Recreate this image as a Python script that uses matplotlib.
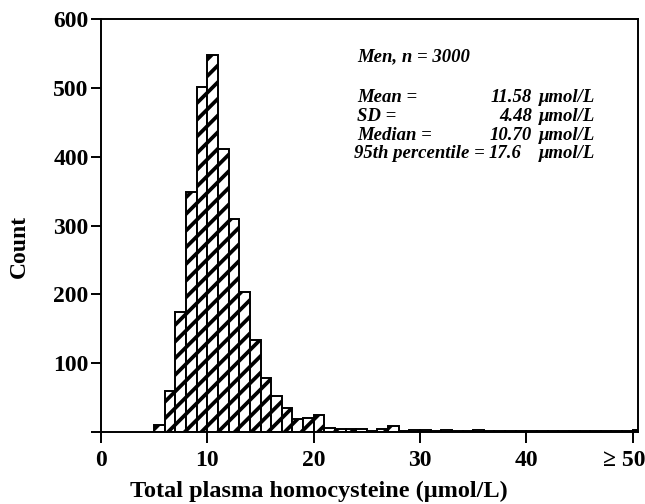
import matplotlib
matplotlib.use('Agg')
import matplotlib.pyplot as plt
import matplotlib.transforms as mtrans
import numpy as np

# histogram of total plasma homocysteine, 1 umol/L bins starting at 5
bin_starts = list(range(5, 51))
counts = [10, 60, 175, 348, 501, 547, 411, 310, 203, 133,
          78, 53, 35, 19, 21, 24, 6, 4, 4, 4,
          1, 5, 8, 1, 3, 3, 2, 3, 2, 1,
          3, 2, 1, 1, 1, 2, 2, 1, 1, 1,
          1, 2, 1, 1, 1, 3]

xticks = [0, 10, 20, 30, 40, 50]
xtick_labels = ['0', '10', '20', '30', '40', '\u2265 50']
yticks = [0, 100, 200, 300, 400, 500, 600]
ytick_labels = ['', '100', '200', '300', '400', '500', '600']

stats_names = ['Mean =', 'SD =', 'Median =', '95th percentile =']
stats_values = ['11.58', '4.48', '10.70', '17.6']

plt.rcParams['font.family'] = ['Liberation Serif', 'DejaVu Serif']
plt.rcParams['hatch.linewidth'] = 2.7

fig = plt.figure(figsize=(6.45, 5.04), dpi=100)
ax = fig.add_axes([101/645, 1-432/504, 537/645, 413/504])

ax.bar(bin_starts, counts, width=1.0, align='edge', color='white',
       edgecolor='black', linewidth=1.4, hatch='//')

ax.set_xlim(0, 50.5)
ax.set_ylim(0, 600)
ax.set_xticks(xticks)
ax.set_xticklabels(xtick_labels)
ax.set_yticks(yticks)
ax.set_yticklabels(ytick_labels)
ax.tick_params(axis='both', direction='out', width=1.4, labelsize=17)
ax.tick_params(axis='x', length=8, pad=5)
ax.tick_params(axis='y', length=7, pad=2)
for lab in ax.get_xticklabels() + ax.get_yticklabels():
    lab.set_fontweight('bold')
last = ax.get_xticklabels()[-1]
last.set_transform(last.get_transform() +
                   mtrans.ScaledTranslation(-8/100, 0, fig.dpi_scale_trans))
for sp in ax.spines.values():
    sp.set_linewidth(1.4)

ax.set_xlabel('Total plasma homocysteine (\u03bcmol/L)', fontsize=17.5,
              fontweight='bold')
ax.xaxis.set_label_coords((319-101)/537, -0.118)
ax.set_ylabel('Count', fontsize=17, fontweight='bold')
ax.yaxis.set_label_coords(-0.133, 0.45)

tkw = dict(transform=ax.transAxes, fontsize=13.5, fontweight='bold',
           style='italic', va='baseline')
ax.text(0.477, 0.897, 'Men, n = 3000', ha='left', **tkw)
rows = [0.800, 0.754, 0.707, 0.663]
for i, (name, val) in enumerate(zip(stats_names, stats_values)):
    x_left = 0.477 if i < 3 else 0.472
    ax.text(x_left, rows[i], name, ha='left', **tkw)
    x_val = 0.802 if i < 3 else 0.783
    ax.text(x_val, rows[i], val, ha='right', **tkw)
    ax.text(0.816, rows[i], '\u03bcmol/L', ha='left', **tkw)

fig.savefig('out.png', dpi=100)
